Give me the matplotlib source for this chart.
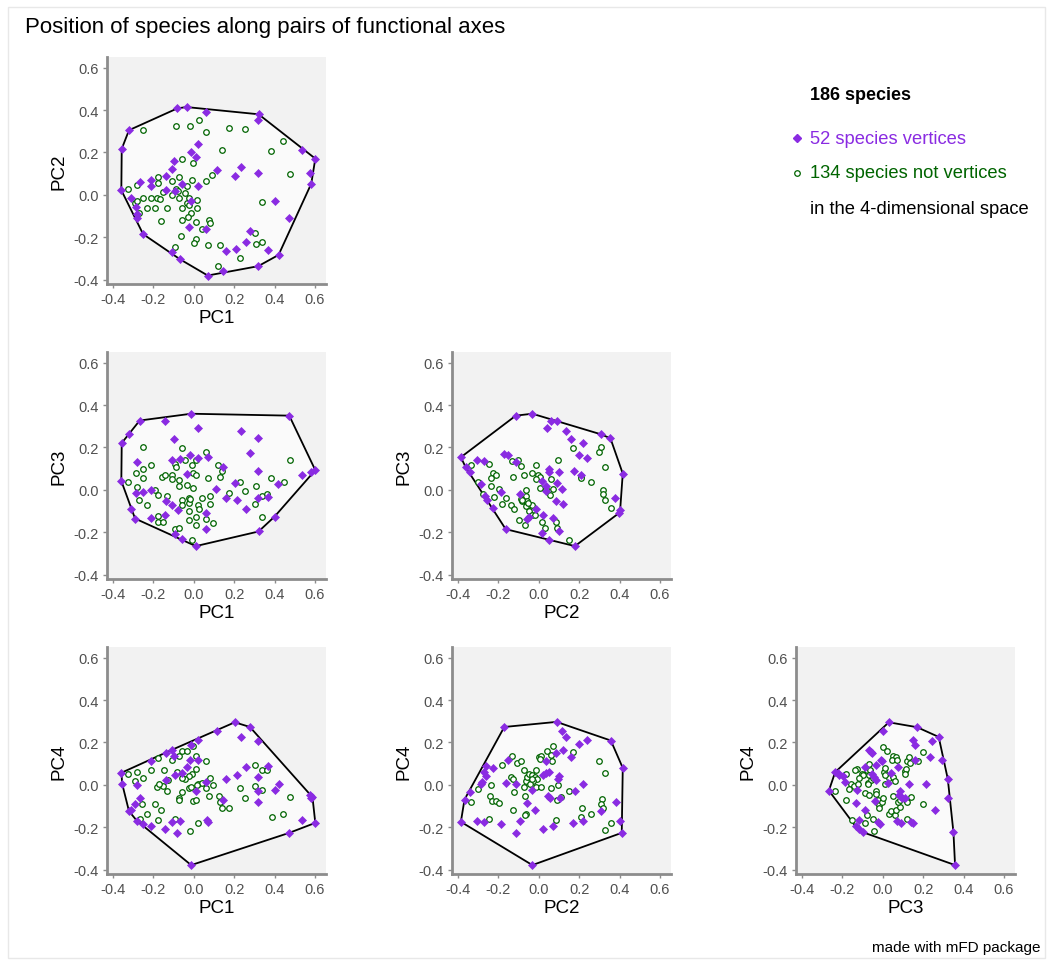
import matplotlib
matplotlib.use("Agg")
import matplotlib.pyplot as plt
from matplotlib.lines import Line2D
from matplotlib.patches import Rectangle, Polygon

plt.rcParams['font.family'] = ['Liberation Sans', 'DejaVu Sans']

# species coordinates on each pair of axes: vertices of the 4D hull and the rest
pc1_pc2_vert = [(-0.081, 0.408), (-0.036, 0.414), (0.060, 0.392), (0.321, 0.380), (0.317, 0.353),
                (-0.321, 0.305), (-0.357, 0.217), (0.536, 0.212), (0.602, 0.171), (0.575, 0.105),
                (0.582, 0.053), (-0.359, 0.022), (-0.309, -0.016), (-0.288, -0.057), (-0.279, -0.091),
                (-0.281, -0.107), (-0.251, -0.185), (-0.109, -0.267), (-0.069, -0.303), (0.069, -0.380),
                (0.147, -0.361), (0.319, -0.336), (0.369, -0.261), (0.420, -0.283), (0.473, -0.111),
                (0.400, -0.031), (0.317, 0.105), (0.236, 0.133), (0.203, 0.089), (0.114, 0.118),
                (0.021, 0.242), (-0.015, 0.203), (0.010, 0.179), (-0.099, 0.160), (-0.109, 0.121),
                (-0.139, 0.089), (-0.213, 0.072), (-0.268, 0.063), (-0.213, 0.042), (-0.139, 0.022),
                (-0.093, 0.019), (-0.056, 0.053), (0.021, 0.042), (-0.015, -0.028), (-0.023, -0.151),
                (0.060, -0.162), (0.159, -0.264), (0.208, -0.256), (0.258, -0.221), (0.278, -0.170)]
pc1_pc2_pool = [(-0.253, 0.306), (-0.089, 0.327), (-0.018, 0.327), (0.025, 0.353), (0.060, 0.295),
                (0.172, 0.316), (0.253, 0.312), (0.443, 0.254), (0.382, 0.207), (0.140, 0.210),
                (-0.060, 0.171), (-0.005, 0.149), (0.089, 0.094), (0.060, 0.066), (-0.007, 0.071),
                (-0.073, 0.086), (-0.109, 0.066), (-0.175, 0.085), (-0.175, 0.055), (-0.283, 0.046),
                (-0.326, 0.027), (-0.155, 0.016), (-0.089, 0.027), (-0.036, 0.041), (-0.078, 0.019),
                (-0.109, 0.000), (-0.043, 0.011), (-0.180, -0.016), (-0.213, -0.016), (-0.250, -0.016),
                (-0.293, -0.036), (-0.167, -0.020), (-0.271, -0.083), (-0.230, -0.063), (-0.192, -0.063),
                (-0.131, -0.060), (-0.060, -0.060), (-0.036, -0.038), (0.015, -0.024), (-0.023, -0.049),
                (0.015, -0.063), (-0.015, -0.083), (-0.028, -0.104), (-0.060, -0.118), (0.010, -0.130),
                (0.074, -0.119), (0.081, -0.133), (-0.162, -0.122), (0.040, -0.159), (-0.063, -0.196),
                (0.010, -0.206), (0.002, -0.229), (0.069, -0.235), (0.129, -0.235), (-0.093, -0.245),
                (0.231, -0.298), (0.122, -0.333), (0.301, -0.181), (0.307, -0.232), (0.339, -0.220),
                (0.340, -0.035), (0.479, 0.097), (-0.283, -0.031), (-0.023, -0.013), (-0.073, -0.013)]

pc1_pc3_vert = [(-0.268, 0.327), (-0.142, 0.323), (-0.013, 0.359), (0.473, 0.350), (0.021, 0.292),
                (-0.321, 0.262), (-0.357, 0.221), (0.235, 0.278), (0.317, 0.243), (-0.098, 0.239),
                (0.278, 0.173), (-0.283, 0.132), (-0.109, 0.140), (-0.068, 0.144), (-0.018, 0.166),
                (0.021, 0.151), (0.071, 0.154), (0.147, 0.110), (-0.036, 0.077), (0.536, 0.072),
                (0.582, 0.085), (0.602, 0.093), (-0.359, 0.042), (-0.284, -0.016), (-0.250, -0.009),
                (-0.213, -0.002), (-0.139, -0.052), (-0.109, -0.069), (-0.079, -0.094), (0.112, 0.003),
                (0.162, -0.036), (0.203, 0.031), (0.212, -0.049), (0.258, -0.088), (0.317, 0.088),
                (0.317, -0.038), (0.370, -0.035), (0.417, 0.027), (0.400, -0.126), (-0.309, -0.088),
                (-0.291, -0.135), (-0.213, -0.132), (-0.142, -0.118), (-0.093, -0.206), (-0.056, -0.232),
                (0.010, -0.265), (0.060, -0.110), (0.060, -0.184), (0.321, -0.196)]
pc1_pc3_pool = [(-0.253, 0.204), (-0.060, 0.198), (0.060, 0.179), (-0.093, 0.121), (-0.213, 0.118),
                (-0.288, 0.078), (-0.250, 0.057), (-0.326, 0.038), (-0.283, 0.016), (-0.271, -0.049),
                (-0.230, -0.072), (-0.192, 0.000), (-0.175, -0.025), (-0.159, 0.061), (-0.144, 0.069),
                (-0.109, 0.071), (-0.106, 0.050), (-0.073, 0.046), (-0.086, 0.110), (-0.043, 0.140),
                (0.010, 0.140), (-0.010, 0.116), (-0.002, 0.078), (0.013, 0.069), (-0.073, 0.019),
                (-0.036, 0.022), (-0.003, 0.008), (-0.060, -0.047), (-0.026, -0.036), (-0.026, -0.063),
                (-0.018, -0.044), (-0.026, -0.099), (-0.060, -0.072), (0.040, -0.036), (0.079, -0.028),
                (0.081, -0.068), (0.020, -0.072), (0.026, -0.088), (0.013, -0.129), (-0.023, -0.143),
                (0.013, -0.165), (0.060, -0.135), (0.093, -0.154), (-0.132, -0.028), (-0.179, -0.122),
                (-0.175, -0.151), (-0.155, -0.151), (-0.093, -0.182), (-0.073, -0.181), (-0.007, -0.235),
                (0.071, 0.057), (0.122, 0.119), (0.139, 0.088), (0.129, 0.063), (0.172, -0.016),
                (0.228, 0.038), (0.253, -0.003), (0.307, 0.019), (0.301, -0.068), (0.337, -0.028),
                (0.364, -0.020), (0.383, 0.058), (0.445, 0.038), (0.479, 0.141), (0.340, -0.127),
                (-0.251, 0.097)]

pc2_pc3_vert = [(-0.114, 0.350), (-0.032, 0.359), (0.061, 0.327), (0.091, 0.323), (0.041, 0.292),
                (0.134, 0.278), (0.158, 0.239), (0.217, 0.220), (0.308, 0.262), (0.355, 0.243),
                (0.201, 0.163), (0.240, 0.149), (0.416, 0.077), (0.174, 0.091), (0.211, 0.071),
                (-0.386, 0.154), (-0.307, 0.143), (-0.363, 0.108), (-0.343, 0.086), (-0.269, 0.135),
                (-0.171, 0.171), (-0.154, 0.163), (-0.111, 0.133), (0.051, 0.097), (0.050, 0.085),
                (0.101, 0.085), (0.088, 0.031), (0.018, 0.042), (0.035, 0.019), (0.038, -0.005),
                (0.116, 0.003), (0.085, -0.052), (0.121, -0.068), (-0.287, 0.027), (-0.187, -0.008),
                (-0.267, -0.031), (-0.257, -0.047), (-0.227, -0.086), (-0.095, -0.019), (-0.012, -0.088),
                (-0.048, -0.127), (-0.058, -0.135), (0.022, -0.119), (0.071, -0.132), (0.101, -0.195),
                (0.015, -0.204), (-0.164, -0.185), (0.051, -0.234), (0.179, -0.265), (0.378, -0.039),
                (0.403, -0.096), (0.395, -0.111)]
pc2_pc3_pool = [(-0.337, 0.118), (-0.247, 0.121), (-0.303, 0.038), (-0.277, -0.017), (-0.227, 0.082),
                (-0.211, 0.069), (-0.235, 0.058), (-0.239, 0.019), (-0.224, -0.033), (-0.197, 0.003),
                (-0.182, -0.068), (-0.161, -0.036), (-0.136, -0.069), (-0.124, -0.088), (-0.128, 0.061),
                (-0.131, 0.137), (-0.101, 0.141), (-0.086, 0.113), (-0.073, 0.069), (-0.065, 0.000),
                (-0.065, -0.028), (-0.088, -0.044), (-0.081, -0.052), (-0.058, -0.053), (-0.048, -0.069),
                (-0.065, -0.075), (-0.035, -0.071), (-0.048, -0.100), (-0.032, -0.116), (-0.020, -0.119),
                (-0.100, -0.141), (-0.070, -0.166), (0.015, -0.151), (0.032, -0.181), (0.086, -0.149),
                (0.088, -0.179), (-0.015, 0.116), (-0.002, 0.069), (0.005, 0.061), (-0.015, 0.053),
                (-0.035, 0.078), (0.008, 0.011), (0.038, 0.006), (0.068, 0.006), (0.055, -0.025),
                (0.061, 0.050), (0.096, 0.141), (0.171, 0.198), (0.257, 0.038), (0.209, 0.066),
                (0.207, 0.057), (0.297, 0.179), (0.307, 0.204), (0.327, 0.110), (0.317, 0.000),
                (0.317, -0.017), (0.327, -0.047), (0.357, -0.086), (0.148, -0.235), (-0.081, -0.049),
                (-0.051, -0.060)]

pc1_pc4_vert = [(-0.359, 0.057), (-0.354, 0.002), (-0.213, 0.111), (-0.139, 0.151), (-0.109, 0.165),
                (-0.098, 0.135), (-0.015, 0.190), (0.023, 0.212), (0.114, 0.256), (0.203, 0.295),
                (0.278, 0.273), (0.235, 0.224), (0.317, 0.207), (0.021, 0.118), (-0.020, 0.118),
                (-0.036, 0.083), (-0.060, 0.057), (-0.093, 0.046), (-0.139, 0.025), (-0.283, -0.002),
                (-0.268, -0.064), (-0.291, -0.088), (-0.321, -0.124), (-0.309, -0.119), (-0.283, -0.168),
                (-0.251, -0.184), (-0.213, -0.195), (-0.142, -0.206), (-0.109, -0.174), (-0.081, -0.226),
                (-0.069, -0.171), (0.063, -0.166), (0.069, -0.174), (0.010, -0.027), (0.060, 0.014),
                (0.147, -0.069), (0.159, 0.028), (0.212, 0.049), (0.258, 0.083), (0.317, 0.039),
                (0.317, -0.030), (0.317, -0.080), (0.370, 0.088), (0.400, -0.022), (0.420, 0.006),
                (0.575, -0.049), (0.582, -0.061), (0.588, -0.058), (0.536, -0.166), (0.602, -0.179),
                (0.473, -0.226), (-0.013, -0.378)]
pc1_pc4_pool = [(-0.324, 0.052), (-0.283, 0.061), (-0.291, 0.017), (-0.250, 0.033), (-0.213, 0.068),
                (-0.175, 0.127), (-0.147, 0.069), (-0.109, 0.119), (-0.073, 0.135), (-0.060, 0.159),
                (-0.036, 0.162), (-0.003, 0.181), (0.010, 0.135), (0.060, 0.115), (0.013, 0.075),
                (-0.010, 0.053), (-0.026, 0.041), (-0.043, 0.030), (-0.056, 0.033), (-0.081, 0.060),
                (-0.126, 0.025), (-0.155, -0.006), (-0.180, -0.009), (-0.172, 0.005), (-0.131, -0.030),
                (-0.060, -0.035), (-0.073, -0.061), (-0.073, -0.072), (-0.023, -0.014), (-0.015, -0.011),
                (-0.003, -0.074), (0.013, -0.072), (0.023, 0.005), (0.040, 0.009), (0.060, -0.014),
                (0.079, 0.033), (0.093, -0.002), (0.073, -0.053), (0.126, -0.053), (0.129, -0.080),
                (0.142, -0.108), (0.172, -0.108), (-0.255, -0.088), (-0.192, -0.088), (-0.164, -0.119),
                (-0.230, -0.137), (-0.268, -0.159), (-0.175, -0.166), (-0.093, -0.159), (-0.018, -0.215),
                (0.023, -0.179), (0.231, -0.014), (0.253, -0.064), (0.301, 0.096), (0.304, -0.003),
                (0.340, -0.024), (0.337, 0.072), (0.365, 0.072), (0.385, -0.152), (0.443, -0.137),
                (0.479, -0.057), (0.018, -0.002)]

pc2_pc4_vert = [(-0.171, 0.273), (0.088, 0.297), (0.116, 0.256), (0.134, 0.226), (0.201, 0.192),
                (0.240, 0.210), (0.357, 0.209), (0.416, 0.080), (0.085, 0.149), (0.121, 0.165),
                (0.159, 0.133), (0.038, 0.115), (-0.154, 0.119), (-0.264, 0.088), (-0.227, 0.078),
                (-0.270, 0.060), (-0.264, 0.044), (-0.280, 0.013), (-0.285, 0.002), (-0.343, -0.033),
                (-0.368, -0.069), (-0.386, -0.174), (-0.307, -0.171), (-0.269, -0.174), (-0.186, -0.182),
                (-0.164, 0.009), (-0.111, 0.002), (-0.035, -0.022), (0.022, 0.049), (0.035, 0.057),
                (0.051, 0.060), (0.101, 0.041), (0.096, 0.028), (0.046, -0.053), (0.055, -0.064),
                (0.104, -0.061), (0.179, -0.027), (0.217, 0.002), (-0.056, -0.086), (-0.017, -0.119),
                (-0.091, -0.168), (-0.114, -0.226), (0.022, -0.206), (0.071, -0.195), (0.171, -0.181),
                (0.217, -0.168), (0.308, -0.124), (0.381, -0.080), (0.400, -0.168), (0.411, -0.226),
                (-0.032, -0.378)]
pc2_pc4_pool = [(-0.184, 0.093), (-0.131, 0.135), (-0.108, 0.104), (-0.086, 0.111), (-0.075, 0.068),
                (-0.136, 0.036), (-0.128, 0.027), (-0.121, -0.033), (-0.071, -0.009), (-0.065, 0.017),
                (-0.058, 0.036), (-0.048, 0.053), (-0.035, 0.049), (-0.015, 0.071), (-0.018, 0.036),
                (-0.008, 0.027), (-0.028, 0.017), (-0.045, 0.002), (-0.012, -0.011), (0.012, -0.011),
                (0.002, 0.130), (0.013, 0.138), (0.005, 0.124), (0.041, 0.162), (0.061, 0.143),
                (0.065, 0.111), (0.071, 0.182), (0.171, 0.155), (0.297, 0.115), (0.327, 0.058),
                (0.061, -0.014), (0.095, 0.000), (0.088, -0.071), (0.108, -0.058), (0.148, -0.030),
                (-0.235, 0.000), (-0.302, -0.017), (-0.240, -0.053), (-0.231, -0.074), (-0.214, -0.074),
                (-0.197, -0.083), (-0.337, -0.080), (-0.128, -0.119), (-0.065, -0.137), (-0.070, -0.144),
                (-0.247, -0.163), (0.085, -0.166), (0.212, -0.108), (0.211, -0.152), (0.257, -0.137),
                (0.313, -0.066), (0.310, -0.089), (0.320, -0.108), (0.357, -0.179), (0.327, -0.213),
                (-0.066, -0.053), (-0.035, 0.028)]

pc3_pc4_vert = [(0.030, 0.295), (0.170, 0.272), (0.277, 0.226), (0.000, 0.256), (0.152, 0.210),
                (0.162, 0.190), (0.244, 0.209), (0.234, 0.133), (0.292, 0.116), (-0.069, 0.165),
                (-0.058, 0.155), (-0.053, 0.148), (-0.007, 0.119), (-0.003, 0.111), (0.162, 0.119),
                (-0.086, 0.083), (-0.036, 0.093), (-0.236, 0.060), (-0.215, 0.049), (-0.198, 0.041),
                (-0.053, 0.052), (-0.046, 0.039), (-0.036, 0.025), (-0.185, 0.014), (-0.129, -0.022),
                (0.026, 0.009), (0.041, 0.057), (0.074, 0.085), (0.083, -0.030), (0.079, -0.046),
                (0.087, -0.053), (0.096, -0.061), (0.109, -0.064), (0.129, 0.002), (0.215, 0.005),
                (0.322, 0.028), (0.325, -0.064), (-0.267, -0.027), (-0.135, -0.085), (-0.086, -0.116),
                (-0.040, -0.077), (-0.023, -0.174), (-0.013, -0.184), (0.071, -0.168), (0.092, -0.179),
                (0.142, -0.174), (0.152, -0.179), (0.261, -0.119), (-0.116, -0.166), (-0.135, -0.195),
                (-0.119, -0.210), (-0.096, -0.224), (0.350, -0.223), (0.358, -0.378), (-0.221, 0.057)]
pc3_pc4_pool = [(-0.238, -0.030), (-0.182, 0.052), (-0.129, 0.075), (-0.069, 0.099), (-0.102, 0.053),
                (-0.099, 0.046), (-0.079, 0.071), (-0.063, 0.072), (-0.066, 0.049), (-0.074, 0.009),
                (-0.056, 0.022), (-0.073, 0.002), (-0.157, 0.002), (-0.145, -0.006), (-0.165, -0.017),
                (-0.122, 0.002), (-0.182, -0.069), (-0.086, -0.038), (-0.033, -0.027), (-0.033, -0.042),
                (-0.066, -0.049), (-0.023, -0.072), (-0.020, -0.096), (-0.003, -0.080), (0.003, -0.064),
                (-0.017, -0.111), (0.033, -0.135), (0.043, -0.121), (0.059, -0.140), (0.063, -0.116),
                (0.086, -0.105), (0.073, -0.080), (0.086, -0.071), (0.050, -0.053), (0.142, -0.058),
                (0.122, -0.080), (0.120, -0.159), (-0.078, -0.140), (-0.050, -0.163), (-0.046, -0.215),
                (-0.152, -0.166), (-0.089, -0.179), (0.013, 0.002), (0.033, 0.033), (0.050, 0.036),
                (0.059, 0.020), (0.008, 0.063), (0.013, 0.049), (0.003, 0.177), (0.020, 0.162),
                (0.050, 0.138), (0.066, 0.130), (0.046, 0.116), (0.069, 0.119), (0.122, 0.115),
                (0.132, 0.133), (0.135, 0.104), (0.172, 0.115), (0.112, 0.064), (0.116, 0.074),
                (0.112, 0.052), (0.198, 0.155), (0.201, -0.088), (-0.137, 0.072), (-0.116, 0.033),
                (-0.050, 0.033), (0.013, 0.080)]

tick_values = [-0.4, -0.2, 0.0, 0.2, 0.4, 0.6]
tick_labels = ['-0.4', '-0.2', '0.0', '0.2', '0.4', '0.6']

# (row, col, x axis name, y axis name, vertices, other species)
panels = [
    (0, 0, 'PC1', 'PC2', pc1_pc2_vert, pc1_pc2_pool),
    (1, 0, 'PC1', 'PC3', pc1_pc3_vert, pc1_pc3_pool),
    (1, 1, 'PC2', 'PC3', pc2_pc3_vert, pc2_pc3_pool),
    (2, 0, 'PC1', 'PC4', pc1_pc4_vert, pc1_pc4_pool),
    (2, 1, 'PC2', 'PC4', pc2_pc4_vert, pc2_pc4_pool),
    (2, 2, 'PC3', 'PC4', pc3_pc4_vert, pc3_pc4_pool),
]

VERT_COL = '#8A2BE2'
POOL_COL = '#006400'
AXIS_GREY = '#8c8c8c'


def convex_hull(points):
    pts = sorted(set(points))
    def cross(o, a, b):
        return (a[0] - o[0]) * (b[1] - o[1]) - (a[1] - o[1]) * (b[0] - o[0])
    lower, upper = [], []
    for p in pts:
        while len(lower) >= 2 and cross(lower[-2], lower[-1], p) <= 0:
            lower.pop()
        lower.append(p)
    for p in reversed(pts):
        while len(upper) >= 2 and cross(upper[-2], upper[-1], p) <= 0:
            upper.pop()
        upper.append(p)
    return lower[:-1] + upper[:-1]


W, H = 1048, 962
fig = plt.figure(figsize=(W / 100, H / 100), dpi=100)
fig.patch.set_facecolor('white')

# thin frame around the whole figure
fig.add_artist(Rectangle((8 / W, 1 - 959 / H), 1037 / W, 951 / H, transform=fig.transFigure,
                         fill=False, edgecolor='#e8e8e8', linewidth=1))

col_left = [107, 452, 796]
row_top = [58, 353, 648]
ax_w, ax_h = 219, 227

for row, col, xname, yname, vert, pool in panels:
    left = col_left[col]
    top = row_top[row]
    ax = fig.add_axes([left / W, 1 - (top + ax_h) / H, ax_w / W, ax_h / H])
    ax.set_facecolor('#F2F2F2')
    ax.set_xlim(-0.43, 0.655)
    ax.set_ylim(-0.42, 0.65)

    hull = convex_hull(vert)
    ax.add_patch(Polygon(hull, closed=True, facecolor='#FAFAFA', edgecolor='black',
                         linewidth=1.3, zorder=1))

    ax.plot([p[0] for p in pool], [p[1] for p in pool], linestyle='none', marker='o',
            markersize=4.0, markerfacecolor='white', markeredgecolor=POOL_COL,
            markeredgewidth=0.9, zorder=2)
    ax.plot([p[0] for p in vert], [p[1] for p in vert], linestyle='none', marker='D',
            markersize=4.3, markerfacecolor=VERT_COL, markeredgecolor=VERT_COL,
            markeredgewidth=0.5, zorder=3)

    for side in ['top', 'right']:
        ax.spines[side].set_visible(False)
    for side in ['left', 'bottom']:
        ax.spines[side].set_color(AXIS_GREY)
        ax.spines[side].set_linewidth(2)
    ax.set_xticks(tick_values)
    ax.set_xticklabels(tick_labels)
    ax.set_yticks(tick_values)
    ax.set_yticklabels(tick_labels)
    ax.tick_params(direction='out', length=3, width=1, color=AXIS_GREY,
                   labelsize=10.5, labelcolor='#505050', pad=3)
    ax.set_xlabel(xname, fontsize=13.5, color='black', labelpad=2)
    ax.set_ylabel(yname, fontsize=13.5, color='black', labelpad=4)

fig.text(25 / W, 1 - 28 / H, 'Position of species along pairs of functional axes',
         fontsize=16, ha='left', va='center', color='black')

# legend block
fig.text(810 / W, 1 - 95 / H, '186 species', fontsize=13, fontweight='bold',
         ha='left', va='center', color='black')
fig.add_artist(Line2D([797 / W], [1 - 139 / H], transform=fig.transFigure, marker='D',
                      markersize=4.3, color=VERT_COL, linestyle='none'))
fig.text(810 / W, 1 - 139 / H, '52 species vertices', fontsize=13.2,
         ha='left', va='center', color=VERT_COL)
fig.add_artist(Line2D([797 / W], [1 - 174 / H], transform=fig.transFigure, marker='o',
                      markersize=4.0, markerfacecolor='white', markeredgecolor=POOL_COL,
                      markeredgewidth=0.9, linestyle='none'))
fig.text(810 / W, 1 - 174 / H, '134 species not vertices', fontsize=13.2,
         ha='left', va='center', color=POOL_COL)
fig.text(810 / W, 1 - 209 / H, 'in the 4-dimensional space', fontsize=13.2,
         ha='left', va='center', color='black')

fig.text(1040 / W, 1 - 948 / H, 'made with mFD package', fontsize=11,
         ha='right', va='center', color='black')

fig.savefig('out.png', dpi=100)
